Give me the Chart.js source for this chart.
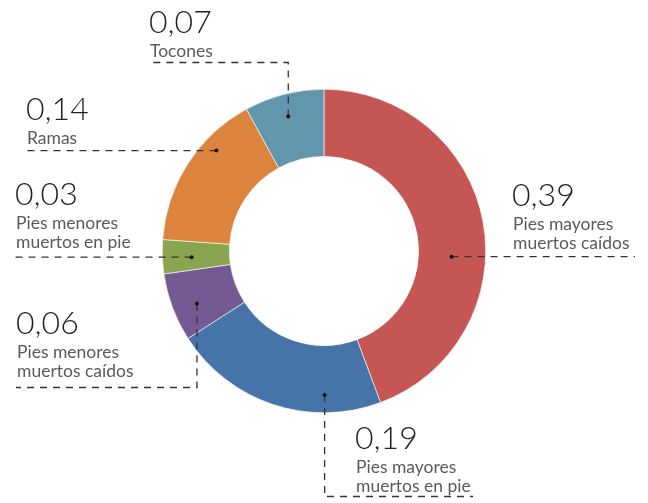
<!DOCTYPE html>
<html>
<head>
<meta charset="utf-8">
<script src="https://cdn.jsdelivr.net/npm/chart.js@4"></script>
<style>
  html, body { margin: 0; padding: 0; background: #fff; }
  #wrap { width: 648px; height: 503px; position: relative; }
</style>
</head>
<body>
<div id="wrap"><canvas id="donut" width="648" height="503"></canvas></div>
<script>
// datos del gráfico
const categorias = [
  ['Pies mayores', 'muertos caídos'],
  ['Pies mayores', 'muertos en pie'],
  ['Pies menores', 'muertos caídos'],
  ['Pies menores', 'muertos en pie'],
  ['Ramas'],
  ['Tocones']
];
const valores = [0.39, 0.19, 0.06, 0.03, 0.14, 0.07];
const colores = ['#c55654', '#4673a8', '#735a92', '#8aa54f', '#dc843e', '#6196ad'];

// posición de las etiquetas y líneas guía (una por sector)
// f: fracción del ángulo del sector, r: fracción del radio exterior
const guias = [
  { f: 0.58, r: 0.79, tipo: 'h', finX: 635, tx: 512, ty: 206 },
  { f: 0.26, r: 0.89, tipo: 'v', esqY: 496.5, finX: 473, tx: 355, ty: 449 },
  { f: 0.42, r: 0.85, tipo: 'v', esqY: 387.5, finX: 16, tx: 16, ty: 334 },
  { f: 0.45, r: 0.82, tipo: 'h', finX: 15, tx: 15, ty: 205 },
  { f: 0.68, r: 0.91, tipo: 'h', finX: 26, tx: 26, ty: 120 },
  { f: 0.48, r: 0.86, tipo: 'v', esqY: 62.5, finX: 148, tx: 149, ty: 33 }
];

const fmt = v => v.toFixed(2).replace('.', ',');

const etiquetas = {
  id: 'etiquetas',
  afterDraw(chart) {
    const ctx = chart.ctx;
    const arcs = chart.getDatasetMeta(0).data;
    ctx.save();
    arcs.forEach((arc, i) => {
      const g = guias[i];
      const p = arc.getProps(['x', 'y', 'startAngle', 'endAngle', 'outerRadius']);
      const a = p.startAngle + g.f * (p.endAngle - p.startAngle);
      const rr = g.r * p.outerRadius;
      const dx = p.x + rr * Math.cos(a);
      const dy = p.y + rr * Math.sin(a);

      // línea guía discontinua
      ctx.strokeStyle = '#333';
      ctx.lineWidth = 1.3;
      ctx.setLineDash([7, 6]);
      ctx.beginPath();
      ctx.moveTo(dx, dy);
      if (g.tipo === 'h') {
        ctx.lineTo(g.finX, dy);
      } else {
        ctx.lineTo(dx, g.esqY);
        ctx.lineTo(g.finX, g.esqY);
      }
      ctx.stroke();
      ctx.setLineDash([]);

      // punto
      ctx.fillStyle = '#111';
      ctx.beginPath();
      ctx.arc(dx, dy, 2, 0, Math.PI * 2);
      ctx.fill();

      // textos
      ctx.textAlign = 'left';
      ctx.textBaseline = 'alphabetic';
      ctx.fillStyle = '#222';
      ctx.font = '300 32px Lato';
      ctx.fillText(fmt(valores[i]), g.tx, g.ty);
      ctx.fillStyle = '#5a5a5a';
      ctx.font = '17.5px Lato';
      categorias[i].forEach((t, k) => {
        ctx.fillText(t, g.tx + 1, g.ty + 24 + k * 19);
      });
    });
    ctx.restore();
  }
};

new Chart(document.getElementById('donut'), {
  type: 'doughnut',
  data: {
    labels: categorias.map(c => c.join(' ')),
    datasets: [{
      data: valores,
      backgroundColor: colores,
      borderColor: '#ffffff',
      borderWidth: 0.6
    }]
  },
  options: {
    responsive: false,
    animation: false,
    cutout: '58.5%',
    layout: { padding: { top: 89, bottom: 90, left: 0, right: 0 } },
    plugins: {
      legend: { display: false },
      tooltip: { enabled: false }
    }
  },
  plugins: [etiquetas]
});
</script>
</body>
</html>
